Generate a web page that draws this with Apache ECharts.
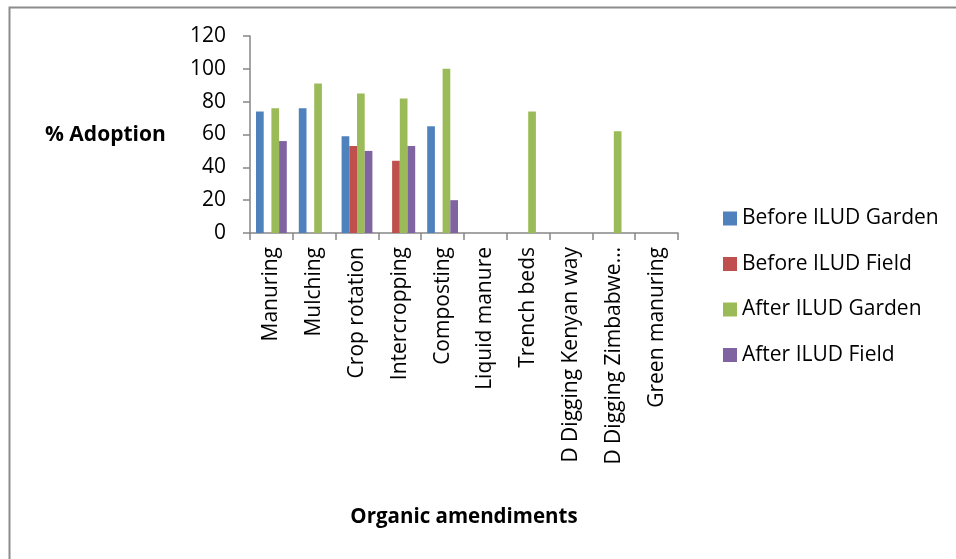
<!DOCTYPE html>
<html>
<head>
<meta charset="utf-8">
<script src="https://cdn.jsdelivr.net/npm/echarts@6/dist/echarts.min.js"></script>
<style>
  html, body { margin: 0; padding: 0; background: #fff; }
  #chart { width: 956px; height: 559px; }
</style>
</head>
<body>
<div id="chart"></div>
<script>
// Organic amendment practices
const categories = [
  'Manuring', 'Mulching', 'Crop rotation', 'Intercropping', 'Composting',
  'Liquid manure', 'Trench beds', 'D Digging Kenyan way', 'D Digging Zimbabwe way', 'Green manuring'
];

// % adoption per practice (null = not reported)
const beforeGarden = [74, 76, 59, null, 65, null, null, null, null, null];
const beforeField  = [null, null, 53, 44, null, null, null, null, null, null];
const afterGarden  = [76, 91, 85, 82, 100, null, 74, null, 62, null];
const afterField   = [56, null, 50, 53, 20, null, null, null, null, null];

const seriesNames = ['Before ILUD Garden', 'Before ILUD Field', 'After ILUD Garden', 'After ILUD Field'];
const yTicks = [0, 20, 40, 60, 80, 100, 120];

const colors = ['#4F81BD', '#C0504D', '#9BBB59', '#8064A2'];
const FONT = '"Open Sans", "Noto Sans", sans-serif';

const chart = echarts.init(document.getElementById('chart'));

const mkSeries = (name, data, i) => ({
  name, type: 'bar', data,
  barWidth: 7.7,
  barGap: '0%',
  itemStyle: { color: colors[i] },
  emphasis: { disabled: true }
});

chart.setOption({
  animation: false,
  backgroundColor: '#fff',
  color: colors,
  textStyle: { fontFamily: FONT },
  grid: { left: 250, right: 278, top: 36, bottom: 326, containLabel: false },
  graphic: [
    {
      type: 'rect',
      shape: { x: 9.5, y: 7.5, width: 1000, height: 1000 },
      style: { fill: 'none', stroke: '#8c8c8c', lineWidth: 2 },
      silent: true
    },
    {
      type: 'text', x: 45, y: 135,
      style: { text: '% Adoption', font: 'bold 21px ' + FONT, fill: '#000', align: 'left', verticalAlign: 'middle' }
    },
    {
      type: 'text', x: 464, y: 517,
      style: { text: 'Organic amendiments', font: 'bold 20.5px ' + FONT, fill: '#000', align: 'center', verticalAlign: 'middle' }
    }
  ],
  legend: {
    orient: 'vertical',
    left: 718, top: 203,
    itemWidth: 14, itemHeight: 14,
    itemGap: 24.5,
    icon: 'rect',
    data: seriesNames,
    textStyle: { fontSize: 21, color: '#000', fontFamily: FONT, padding: [0, 0, 0, 0] }
  },
  xAxis: {
    type: 'category',
    data: categories,
    boundaryGap: true,
    axisLine: { lineStyle: { color: '#868686', width: 1.5 } },
    axisTick: { show: true, length: 7, interval: 0, lineStyle: { color: '#868686', width: 1.5 } },
    axisLabel: {
      rotate: 90, interval: 0, margin: 14,
      fontSize: 21, color: '#000', fontFamily: FONT,
      formatter: v => v.length > 20 ? v.slice(0, 18) + '…' : v
    }
  },
  yAxis: {
    type: 'value',
    min: 0, max: 120, interval: 20,
    axisLine: { show: true, lineStyle: { color: '#868686', width: 1.5 } },
    axisTick: { show: true, length: 7, lineStyle: { color: '#868686', width: 1.5 } },
    splitLine: { show: false },
    axisLabel: {
      fontSize: 21, color: '#000', fontFamily: FONT, margin: 24,
      formatter: v => yTicks.includes(v) ? String(v) : ''
    }
  },
  series: [
    mkSeries(seriesNames[0], beforeGarden, 0),
    mkSeries(seriesNames[1], beforeField, 1),
    mkSeries(seriesNames[2], afterGarden, 2),
    mkSeries(seriesNames[3], afterField, 3)
  ]
});
</script>
</body>
</html>
